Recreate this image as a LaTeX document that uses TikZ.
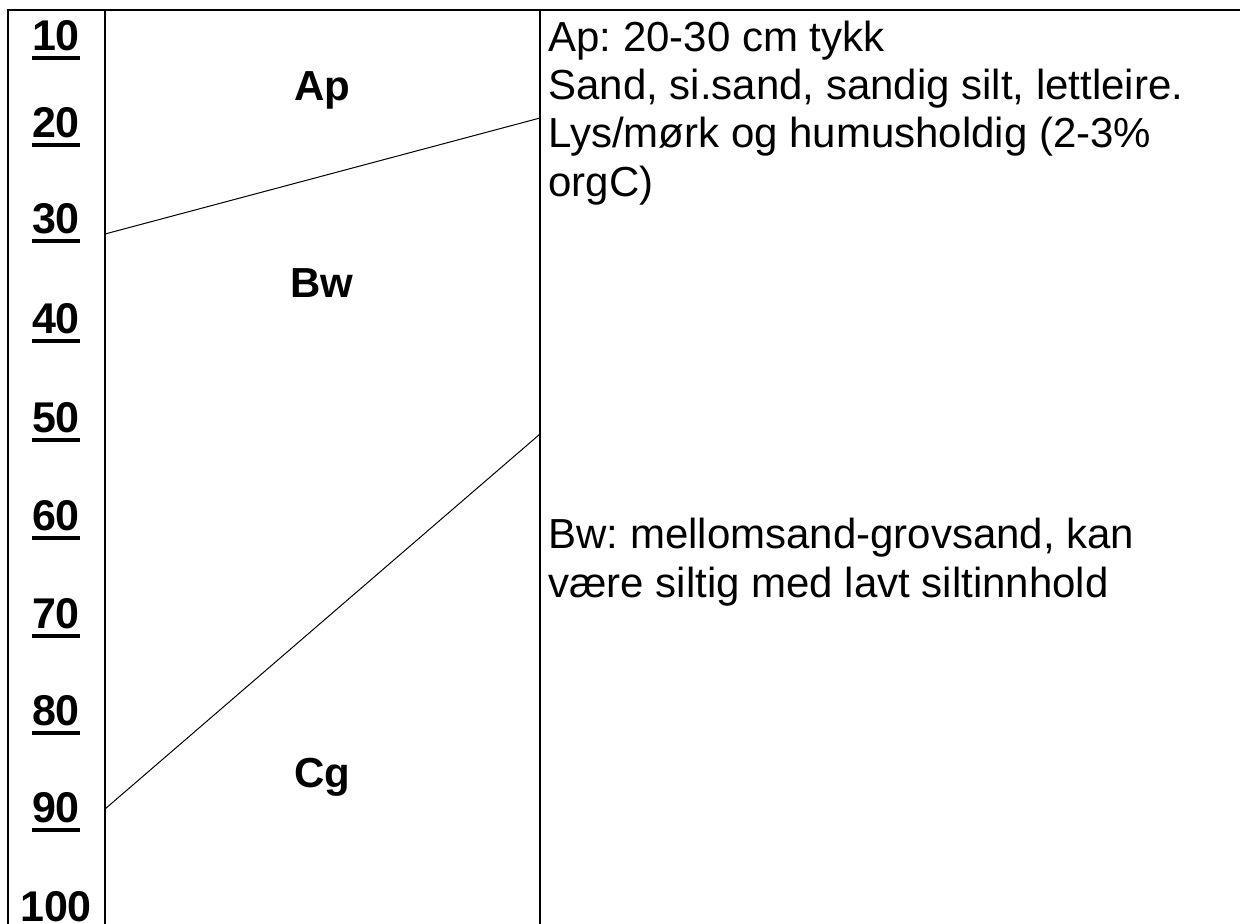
\documentclass[tikz,border=0pt]{standalone}
\usepackage{fontspec}
\setmainfont{Liberation Sans}
\frenchspacing
\newcommand\ulnum[1]{\vtop{\hbox{#1}\kern2.8pt\hrule height 1.8pt}}
\tikzset{
  frame/.style={line width=1.1pt, line cap=rect},
  bound/.style={line width=0.5pt},
  depthlbl/.style={anchor=base, inner sep=0pt, font=\fontsize{21.5}{25}\selectfont\bfseries},
  horizon/.style={anchor=base, inner sep=0pt, font=\fontsize{21}{25}\selectfont\bfseries},
  desc/.style={anchor=base west, inner sep=0pt, align=left, font=\fontsize{21}{24.1}\selectfont},
}
\begin{document}
\begin{tikzpicture}[x=0.5pt, y=-0.5pt]
\useasboundingbox (0,0) rectangle (1240,923);
% frame
\coordinate (tl) at (8,10);
\coordinate (tr) at (1240,10);
\coordinate (bl) at (8,930);
\coordinate (d1t) at (105,10);
\coordinate (d1b) at (105,930);
\coordinate (d2t) at (540,10);
\coordinate (d2b) at (540,930);
\draw[frame] (bl) -- (tl) -- (tr);
\draw[frame] (d1t) -- (d1b);
\draw[frame] (d2t) -- (d2b);
% horizon boundaries
\coordinate (b1l) at (105,234);
\coordinate (b1r) at (540,118);
\coordinate (b2l) at (105,809);
\coordinate (b2r) at (540,434);
\draw[bound] (b1l) -- (b1r);
\draw[bound] (b2l) -- (b2r);
% depth labels
\node[depthlbl] (n10) at (56,50) {\ulnum{10}};
\node[depthlbl] (n20) at (56,137) {\ulnum{20}};
\node[depthlbl] (n30) at (56,233) {\ulnum{30}};
\node[depthlbl] (n40) at (56,333) {\ulnum{40}};
\node[depthlbl] (n50) at (56,432) {\ulnum{50}};
\node[depthlbl] (n60) at (56,530) {\ulnum{60}};
\node[depthlbl] (n70) at (56,628) {\ulnum{70}};
\node[depthlbl] (n80) at (56,725) {\ulnum{80}};
\node[depthlbl] (n90) at (56,822) {\ulnum{90}};
\node[depthlbl] (n100) at (56,921) {100};
% horizon names
\node[horizon] (ap) at (322,100) {Ap};
\node[horizon] (bw) at (322,297) {Bw};
\node[horizon] (cg) at (322,787) {Cg};
% descriptions (anchored at the baseline of their last line)
\node[desc] (apdesc) at (548,196) {Ap: 20-30 cm tykk\\Sand, si.sand, sandig silt, lettleire.\\Lys/mørk og humusholdig (2-3\%\\orgC)};
\node[desc] (bwdesc) at (548,597) {Bw: mellomsand-grovsand, kan\\være siltig med lavt siltinnhold};
\end{tikzpicture}
\end{document}
